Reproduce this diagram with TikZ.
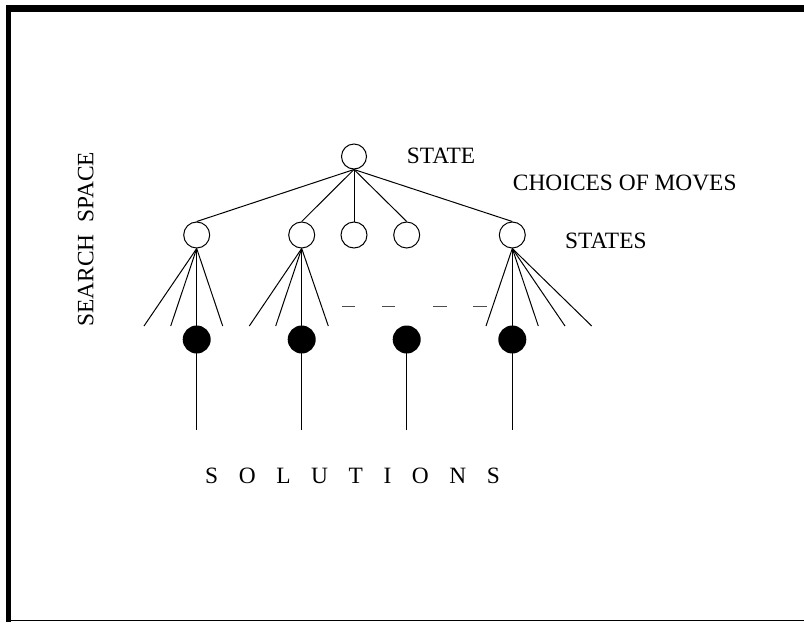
\documentclass[tikz,border=0pt]{standalone}
\usepackage{fontspec}
\setmainfont{Liberation Serif}
\begin{document}
\begin{tikzpicture}[x=1pt,y=-1pt,
  state/.style={circle,draw,line width=1pt,minimum size=26pt,inner sep=0pt},
  goal/.style={circle,fill=black,minimum size=28pt,inner sep=0pt},
  link/.style={line width=1pt},
  gap/.style={line width=1pt,black!70},
  lbl/.style={font=\fontsize{23.4}{28}\selectfont,inner sep=0pt,anchor=base west}]
\useasboundingbox (0,0) rectangle (804,622);

% frame
\fill (6,5) rectangle (804,11.7);
\fill (6,5) rectangle (10.7,621.5);
\draw[line width=1.2pt] (10,620.6) -- (804,620.6);

% states
\node[state,minimum size=25pt] (top) at (354,156.5) {};
\node[state] (s1) at (196.7,235) {};
\node[state] (s2) at (301.7,235) {};
\node[state] (s3) at (354,235) {};
\node[state] (s4) at (406.7,235) {};
\node[state] (s5) at (512.3,235) {};

% choices of moves
\foreach \s in {s1,s2,s3,s4,s5}
  \draw[link] (top.south) -- (\s.north);

% free ends of the branches
\foreach \n/\x in {a1/144,a2/170.7,a3/222.7,
                   b1/249.3,b2/275.7,b3/328.3,
                   c1/486,c2/538.3,c3/565,c4/591.7}
  \coordinate (\n) at (\x,326);
\foreach \n/\x in {e1/196.7,e2/301.7,e3/406.7,e4/512.3}
  \coordinate (\n) at (\x,430);

\foreach \e in {a1,a2,a3} \draw[link] (s1.south) -- (\e);
\foreach \e in {b1,b2,b3} \draw[link] (s2.south) -- (\e);
\foreach \e in {c1,c2,c3,c4} \draw[link] (s5.south) -- (\e);

% solutions
\node[goal] (g1) at (196.7,339.5) {};
\node[goal] (g2) at (301.7,339.5) {};
\node[goal] (g3) at (406.7,339.5) {};
\node[goal] (g4) at (512.3,339.5) {};
\draw[link] (s1.south) -- (e1);
\draw[link] (s2.south) -- (e2);
\draw[link] (g3.center) -- (e3);
\draw[link] (s5.south) -- (e4);

% dashes between the branches
\draw[gap] (341.7,306) -- (355,306);
\draw[gap] (381.7,306) -- (395,306);
\draw[gap] (433.3,306) -- (446.7,306);
\draw[gap] (473.3,306) -- (486.7,306);

% labels
\node[lbl] (lstate) at (406.7,163.3) {STATE};
\node[lbl] (lchoices) at (512.7,190) {CHOICES OF MOVES};
\node[lbl] (lstates) at (565,248.3) {STATES};
\node[lbl,rotate=90] (lspace) at (93.3,326.7) {SEARCH\ \ SPACE};
\node[lbl] (lsol) at (205,483.3) {\spaceskip=20.6pt\relax S O L U T I O N S};
\end{tikzpicture}
\end{document}
